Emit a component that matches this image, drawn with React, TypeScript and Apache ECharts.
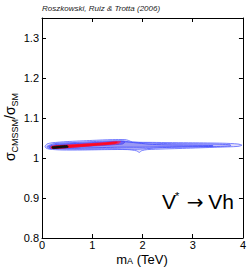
import React, { useEffect, useRef } from 'react';
import * as echarts from 'echarts';

type P = [number, number];

const X_MIN = 0;
const X_MAX = 4;
const X_STEP = 1;
const Y_MIN = 0.8;
const Y_MAX = 1.35;
const Y_STEP = 0.1;

// Contour outlines (m_A in TeV, sigma ratio), outermost first
const CONTOUR_L1: P[] = [
  [0.06, 1.029], [0.1, 1.035], [0.2, 1.038], [0.5, 1.041], [1.0, 1.044], [1.4, 1.046],
  [1.65, 1.046], [1.72, 1.044], [1.8, 1.04], [2.2, 1.039], [3.0, 1.038], [3.6, 1.037],
  [3.9, 1.035], [3.98, 1.032], [3.9, 1.029], [3.5, 1.027], [2.8, 1.024], [2.1, 1.021],
  [1.98, 1.018], [1.94, 1.014], [1.88, 1.018], [1.7, 1.021], [1.3, 1.021], [0.8, 1.02],
  [0.4, 1.02], [0.15, 1.022], [0.08, 1.025],
];
const CONTOUR_L2: P[] = [
  [0.1, 1.029], [0.25, 1.036], [0.7, 1.039], [1.2, 1.042], [1.6, 1.043], [1.75, 1.04],
  [2.5, 1.036], [3.3, 1.035], [3.75, 1.033], [3.75, 1.03], [3.2, 1.028], [2.4, 1.026],
  [1.9, 1.022], [1.4, 1.023], [0.8, 1.022], [0.3, 1.023], [0.12, 1.025],
];
const CONTOUR_L3: P[] = [
  [0.13, 1.029], [0.3, 1.034], [0.8, 1.037], [1.3, 1.04], [1.6, 1.041], [2.2, 1.034],
  [3.0, 1.032], [3.4, 1.031], [3.4, 1.029], [2.6, 1.028], [2.0, 1.027], [1.5, 1.027],
  [0.9, 1.025], [0.4, 1.024], [0.16, 1.025],
];
const CONTOUR_L4: P[] = [
  [0.15, 1.028], [0.4, 1.033], [1.0, 1.037], [1.5, 1.041], [1.65, 1.04], [1.6, 1.035],
  [1.0, 1.03], [0.4, 1.025], [0.17, 1.024],
];
const CONTOUR_L5: P[] = [
  [0.18, 1.029], [0.6, 1.033], [1.2, 1.038], [1.56, 1.041], [1.52, 1.036], [1.0, 1.031],
  [0.5, 1.026], [0.19, 1.024],
];
const CONTOUR_L6: P[] = [
  [0.2, 1.029], [0.7, 1.033], [1.2, 1.037], [1.5, 1.04], [1.45, 1.036], [1.0, 1.031],
  [0.5, 1.026], [0.2, 1.024],
];
const CONTOUR_L7: P[] = [
  [0.2, 1.028], [0.35, 1.03], [0.5, 1.031], [0.52, 1.027], [0.35, 1.025], [0.21, 1.024],
];

const LEVELS = [
  { pts: CONTOUR_L1, fill: '#e4e0fa', stroke: '#5a66ff' },
  { pts: CONTOUR_L2, fill: '#c4c0f6', stroke: '#4a56ff' },
  { pts: CONTOUR_L3, fill: '#9a98f4', stroke: '#3a46ff' },
  { pts: CONTOUR_L4, fill: '#7268f0', stroke: '#4c44f4' },
  { pts: CONTOUR_L5, fill: '#e02a70', stroke: '#e02a70' },
  { pts: CONTOUR_L6, fill: '#ff0820', stroke: '#ff0820' },
  { pts: CONTOUR_L7, fill: '#111111', stroke: '#111111' },
];

const FONT = 'Liberation Sans, Arial, Helvetica, sans-serif';

export default function App() {
  const ref = useRef<HTMLDivElement>(null);
  useEffect(() => {
    if (!ref.current) return;
    const chart = echarts.init(ref.current, undefined, { renderer: 'svg' });
    const axisCommon = {
      type: 'value' as const,
      axisLine: { show: true, onZero: false, lineStyle: { color: '#000', width: 1 } },
      axisTick: { show: true, inside: true, length: 4, lineStyle: { color: '#000' } },
      splitLine: { show: false },
    };
    const big = { fontSize: 21, fontFamily: FONT, fill: '#000', verticalAlign: 'middle' as const };
    chart.setOption({
      animation: false,
      backgroundColor: '#ffffff',
      grid: { left: 42, right: 6, top: 18, bottom: 30, containLabel: false },
      xAxis: [
        {
          ...axisCommon, min: X_MIN, max: X_MAX, interval: X_STEP, position: 'bottom',
          axisLabel: { color: '#000', fontSize: 11, lineHeight: 9, margin: 2, fontFamily: FONT },
        },
        {
          ...axisCommon, min: X_MIN, max: X_MAX, interval: X_STEP, position: 'top',
          axisLabel: { show: false },
        },
      ],
      yAxis: [
        {
          ...axisCommon, min: Y_MIN, max: Y_MAX, interval: Y_STEP, position: 'left',
          axisLabel: { color: '#000', fontSize: 11, margin: 3, fontFamily: FONT, showMaxLabel: false },
        },
        {
          ...axisCommon, min: Y_MIN, max: Y_MAX, interval: Y_STEP, position: 'right',
          axisLabel: { show: false },
        },
      ],
      series: [
        {
          type: 'custom',
          coordinateSystem: 'cartesian2d',
          xAxisIndex: 0,
          yAxisIndex: 0,
          data: LEVELS.map((l, i) => [l.pts[0][0], l.pts[0][1], i]),
          renderItem: (params: any, api: any) => {
            const lv = LEVELS[params.dataIndex];
            return {
              type: 'polygon',
              shape: { points: lv.pts.map((p) => api.coord(p)), smooth: 0.25 },
              style: { fill: lv.fill, stroke: lv.stroke, lineWidth: 0.8 },
            };
          },
        },
      ],
      graphic: [
        {
          type: 'text', left: 42, top: 4,
          style: {
            text: 'Roszkowski, Ruiz & Trotta (2006)', fontSize: 8, fontStyle: 'italic',
            fontFamily: FONT, fill: '#222',
          },
        },
        {
          type: 'text', x: 142, y: 259,
          style: {
            text: '{a|m}{b|A}{a| (TeV)}', align: 'center', verticalAlign: 'middle',
            rich: {
              a: { fontSize: 13, fontFamily: FONT, fill: '#000', verticalAlign: 'top', lineHeight: 13 },
              b: { fontSize: 9, fontFamily: FONT, fill: '#000', verticalAlign: 'bottom', lineHeight: 9, padding: [7, 0, 0, 0] },
            },
          },
        },
        {
          type: 'text', x: 11, y: 127, rotation: Math.PI / 2,
          style: {
            text: '{a|σ}{b|CMSSM}{a|/σ}{b|SM}', align: 'center', verticalAlign: 'middle',
            rich: {
              a: { fontSize: 14, fontFamily: FONT, fill: '#000', verticalAlign: 'top', lineHeight: 16 },
              b: { fontSize: 9, fontFamily: FONT, fill: '#000', verticalAlign: 'bottom', lineHeight: 10, padding: [8, 0, 0, 0] },
            },
          },
        },
        { type: 'text', x: 162, y: 201, style: { ...big, text: 'V', align: 'left' } },
        { type: 'text', x: 175, y: 196, style: { fontSize: 11, fontFamily: FONT, fill: '#000', text: '*', align: 'left', verticalAlign: 'middle' } },
        { type: 'text', x: 195, y: 202, style: { fontSize: 20, fontFamily: 'DejaVu Sans', fill: '#000', text: '→', align: 'center', verticalAlign: 'middle' } },
        { type: 'text', x: 234, y: 201, style: { ...big, text: 'Vh', align: 'right' } },
      ],
    });
    return () => chart.dispose();
  }, []);
  return (
    <div
      ref={ref}
      style={{ position: 'fixed', left: 0, top: 0, width: 249, height: 268, background: '#fff' }}
    />
  );
}
